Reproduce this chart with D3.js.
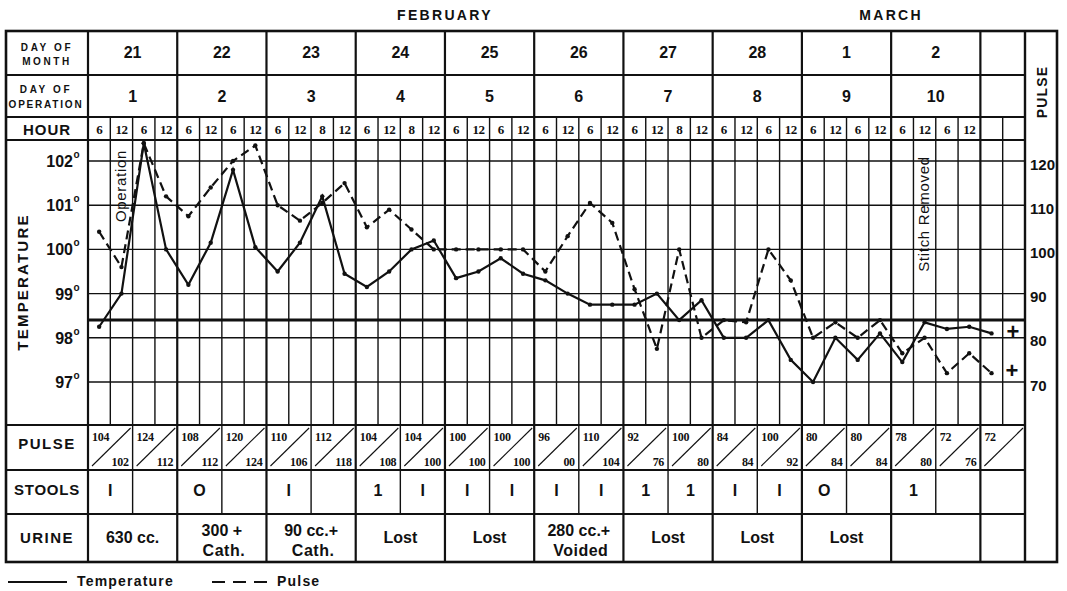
<!DOCTYPE html>
<html><head><meta charset="utf-8">
<script src="https://cdn.jsdelivr.net/npm/d3@7"></script>
<style>body{margin:0;background:#fff}svg{display:block}</style>
</head><body>
<svg id="c" width="1067" height="591"></svg>
<script>
// ---------------- DATA ----------------
const monthNames = ["FEBRUARY", "MARCH"];
const monthDayCounts = [8, 2];
const daysOfMonth = ["21","22","23","24","25","26","27","28","1","2"];
const daysOfOperation = ["1","2","3","4","5","6","7","8","9","10"];
const hourLabels = ["6","12","6","12", "6","12","6","12", "6","12","8","12", "6","12","8","12",
  "6","12","6","12", "6","12","6","12", "6","12","8","12", "6","12","6","12",
  "6","12","6","12", "6","12","6","12"];
const temperature = [98.25, 99.0, 102.4, 100.0, 99.2, 100.15, 101.8, 100.05, 99.5, 100.15,
  101.2, 99.45, 99.15, 99.5, 100.0, 100.2, 99.35, 99.5, 99.8, 99.45,
  99.3, 99.0, 98.75, 98.75, 98.75, 99.0, 98.4, 98.85, 98.0, 98.0,
  98.4, 97.5, 97.0, 98.0, 97.5, 98.1, 97.45, 98.35, 98.2, 98.25, 98.1];
const pulse = [104, 96, 124, 112, 107.5, 114, 120, 123.5, 110, 106.5,
  110.5, 115, 105, 109, 104.5, 100, 100, 100, 100, 100,
  95, 103, 110.5, 106, 91, 77.5, 100, 80, 84, 83.5,
  100, 93, 80, 83.5, 80, 84, 76.5, 80, 72, 76.5, 72];
const endMarkTemp = 98.15;
const endMarkPulse = 72.5;
const tempTicks = [97, 98, 99, 100, 101, 102];
const normalTemp = 98.4;
const pulseTicks = [70, 80, 90, 100, 110, 120];
const pulseTop = ["104","124","108","120","110","112","104","104","100","100","96","110","92","100","84","100","80","80","78","72","72"];
const pulseBottom = ["102","112","112","124","106","118","108","100","100","100","00","104","76","80","84","92","84","84","80","76",""];
const stools = ["I","","O","","I","","1","I","I","I","I","I","1","1","I","I","O","","1","",""];
const urine = ["630 cc.", "300 +|Cath.", "90 cc.+|Cath.", "Lost", "Lost", "280 cc.+|Voided", "Lost", "Lost", "Lost", "", ""];
const annotations = [{col: 1, text: "Operation"}, {col: 37, text: "Stitch Removed"}];

// ---------------- LAYOUT ----------------
const L = {left: 6, lab: 88, grid: 1025, right: 1057, top: 31, rDay: 75, rOp: 117, rHour: 140,
  cBot: 425, pBot: 470, sBot: 514, bottom: 562};
const nCols = 42;
const SANS = "'Liberation Sans', Arial, sans-serif";
const SERIF = "'Liberation Serif', 'Times New Roman', serif";

const svg = d3.select("#c");
svg.append("rect").attr("width", 1067).attr("height", 591).attr("fill", "#fff");

const x = d3.scaleLinear().domain([0, nCols]).range([L.lab, L.grid]);
const yT = d3.scaleLinear().domain([97, 102]).range([382, 161]);
const yP = d3.scaleLinear().domain([70, 120]).range([382, 161]);

const g = svg.append("g").attr("stroke", "#111").attr("fill", "none");
function hline(y, x1, x2, w) { g.append("line").attr("x1", x1).attr("x2", x2).attr("y1", y).attr("y2", y).attr("stroke-width", w); }
function vline(xx, y1, y2, w) { g.append("line").attr("x1", xx).attr("x2", xx).attr("y1", y1).attr("y2", y2).attr("stroke-width", w); }

// chart gridlines
tempTicks.forEach(t => hline(yT(t), L.lab, L.grid, 1.4));
hline(yT(normalTemp), L.lab, L.grid, 3);

// vertical lines
for (let c = 1; c < nCols; c++) {
  const xx = x(c);
  if (c % 4 === 0) vline(xx, L.top, L.bottom, 2.2);
  else if (c % 2 === 0) vline(xx, L.rOp, L.sBot, 1.4);
  else vline(xx, L.rOp, L.cBot, 1.4);
}
vline(L.lab, L.top, L.bottom, 2.2);
vline(L.grid, L.top, L.bottom, 2.4);

// horizontal separators
[L.rDay, L.rOp, L.rHour, L.cBot].forEach(y => hline(y, L.left, L.grid, 2));
[L.pBot, L.sBot].forEach(y => hline(y, L.left, L.grid, 1.8));
// outer border
g.append("rect").attr("x", L.left).attr("y", L.top).attr("width", L.right - L.left).attr("height", L.bottom - L.top).attr("stroke-width", 2.6);

// pulse row diagonals
for (let k = 0; k < 21; k++) {
  const x1 = x(2 * k), x2 = (k === 20) ? x(42) : x(2 * k + 2);
  g.append("line").attr("x1", x1 + 4).attr("y1", L.pBot - 4).attr("x2", x2 - 2).attr("y2", L.cBot + 3).attr("stroke-width", 1.1);
}

// ---------------- TEXT ----------------
const t = svg.append("g").attr("fill", "#111");
function txt(xx, y, s, size, opts = {}) {
  return t.append("text").attr("x", xx).attr("y", y).text(s)
    .attr("font-family", opts.family || SANS).attr("font-size", size)
    .attr("font-weight", opts.weight || "bold")
    .attr("text-anchor", opts.anchor || "middle")
    .attr("dominant-baseline", "central")
    .attr("letter-spacing", opts.ls || 0);
}

// months
let acc = 0;
monthNames.forEach((m, i) => {
  const c0 = acc * 4, c1 = (acc + monthDayCounts[i]) * 4;
  txt((x(c0) + x(c1)) / 2, 15, m, 14, {ls: 2.3});
  acc += monthDayCounts[i];
});

// header labels
txt(47, 47, "DAY OF", 10, {ls: 2.6});
txt(47, 61, "MONTH", 10, {ls: 2.6});
txt(46, 89, "DAY OF", 10, {ls: 2.6});
txt(46, 104, "OPERATION", 10, {ls: 1.8});
txt(47, 129, "HOUR", 15, {ls: 1});

daysOfMonth.forEach((d, i) => txt((x(4 * i) + x(4 * i + 4)) / 2, 52, d, 16));
daysOfOperation.forEach((d, i) => txt((x(4 * i) + x(4 * i + 4)) / 2, 96, d, 16));
hourLabels.forEach((h, i) => txt(x(i + 0.5), 129, h, 13, {family: SERIF, ls: -0.5}));

// axis labels
t.append("text").attr("transform", "translate(22,282) rotate(-90)").text("TEMPERATURE")
  .attr("font-family", SANS).attr("font-size", 15).attr("font-weight", "bold")
  .attr("text-anchor", "middle").attr("dominant-baseline", "central").attr("letter-spacing", 2.2);
t.append("text").attr("transform", "translate(1042,92) rotate(-90)").text("PULSE")
  .attr("font-family", SANS).attr("font-size", 14).attr("font-weight", "bold")
  .attr("text-anchor", "middle").attr("dominant-baseline", "central").attr("letter-spacing", 1.2);

tempTicks.forEach(v => {
  t.append("text").attr("x", 73).attr("y", yT(v) + 6).text(v)
    .attr("font-family", SANS).attr("font-size", 16).attr("font-weight", "bold").attr("text-anchor", "end");
  t.append("text").attr("x", 73.5).attr("y", yT(v) - 3).text("o")
    .attr("font-family", SANS).attr("font-size", 10).attr("font-weight", "bold");
});
pulseTicks.forEach(v => txt(1030, yP(v) + 3, v, 15, {anchor: "start"}));

// annotations
annotations.forEach(a => {
  t.append("text").attr("transform", `translate(${x(a.col + 0.5) - 1},${a.col === 1 ? 186 : 214}) rotate(-90)`)
    .text(a.text).attr("font-family", SANS).attr("font-size", 15).attr("font-weight", "normal")
    .attr("text-anchor", "middle").attr("dominant-baseline", "central").attr("letter-spacing", 0.7);
});

// row labels
txt(47, 443, "PULSE", 15, {ls: 1.5});
txt(47, 489, "STOOLS", 15, {ls: 0.8});
txt(47, 537, "URINE", 15, {ls: 1.5});

// pulse values
pulseTop.forEach((v, k) => txt(x(2 * k) + 4, 437, v, 12, {family: SERIF, anchor: "start", ls: -0.3}));
pulseBottom.forEach((v, k) => txt(x(2 * k + 2) - 4, 462, v, 12, {family: SERIF, anchor: "end", ls: -0.3}));

// stools
stools.forEach((s, k) => {
  const x2 = (k === 20) ? x(42) : x(2 * k + 2);
  txt((x(2 * k) + x2) / 2, 490, s, 16);
});

// urine
urine.forEach((u, k) => {
  const x2 = (k === 10) ? x(42) : x(4 * k + 4);
  const cx = (x(4 * k) + x2) / 2;
  const parts = u.split("|");
  if (parts.length === 1) txt(cx, 537, parts[0], 16);
  else { txt(cx, 530, parts[0], 16); txt(cx + 2, 550, parts[1], 16, {ls: 0.5}); }
});

// ---------------- SERIES ----------------
const lineT = d3.line().x((d, i) => x(i + 0.5)).y(d => yT(d));
const lineP = d3.line().x((d, i) => x(i + 0.5)).y(d => yP(d));
svg.append("path").attr("d", lineP(pulse)).attr("fill", "none").attr("stroke", "#111")
  .attr("stroke-width", 2.2).attr("stroke-dasharray", "9,5");
svg.append("path").attr("d", lineT(temperature)).attr("fill", "none").attr("stroke", "#111")
  .attr("stroke-width", 2.2);
svg.append("g").selectAll("circle").data(temperature).join("circle")
  .attr("cx", (d, i) => x(i + 0.5)).attr("cy", d => yT(d)).attr("r", 2.2).attr("fill", "#111");
svg.append("g").selectAll("circle").data(pulse).join("circle")
  .attr("cx", (d, i) => x(i + 0.5)).attr("cy", d => yP(d)).attr("r", 2.2).attr("fill", "#111");
txt(x(41.5) - 1, yT(endMarkTemp), "+", 22);
txt(x(41.5) - 2, yP(endMarkPulse), "+", 22);

// ---------------- LEGEND ----------------
const lg = svg.append("g");
lg.append("line").attr("x1", 8).attr("x2", 67).attr("y1", 582).attr("y2", 582).attr("stroke", "#111").attr("stroke-width", 2);
txt(77, 581, "Temperature", 14, {anchor: "start", ls: 1.2, weight: 600});
lg.append("line").attr("x1", 212).attr("x2", 268).attr("y1", 582).attr("y2", 582).attr("stroke", "#111").attr("stroke-width", 2).attr("stroke-dasharray", "13,8");
txt(277, 581, "Pulse", 14, {anchor: "start", ls: 1.2, weight: 600});
</script>
</body></html>
